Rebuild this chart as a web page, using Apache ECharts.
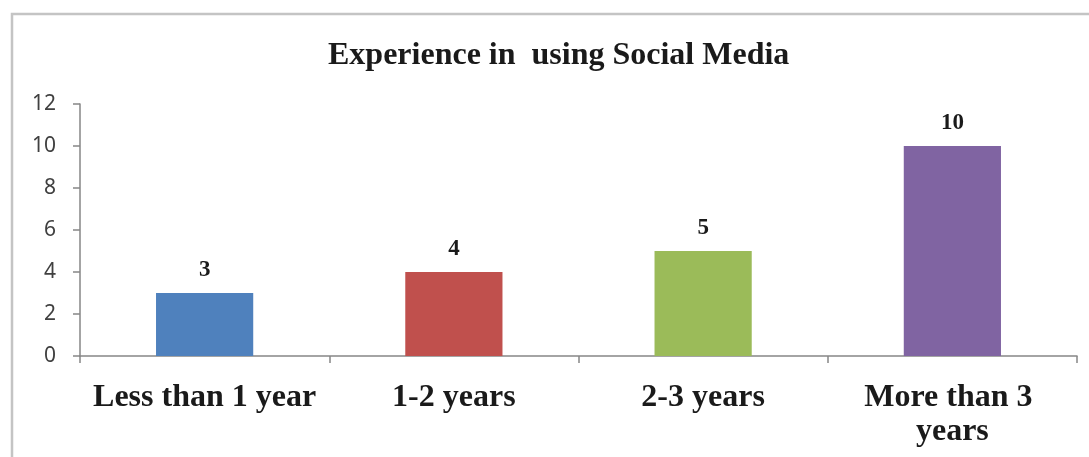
<!DOCTYPE html>
<html>
<head>
<meta charset="utf-8">
<script src="https://cdn.jsdelivr.net/npm/echarts@6/dist/echarts.min.js"></script>
<style>html,body{margin:0;padding:0;background:#fff;}#c{width:1089px;height:457px;}</style>
</head>
<body>
<div id="c"></div>
<script>
var titleText = 'Experience in  using Social Media';
var categories = ['Less than 1 year', '1-2 years', '2-3 years', 'More than 3 years'];
var values = [3, 4, 5, 10];
var barColors = ['#4F81BD', '#C0504D', '#9BBB59', '#8064A2'];
var yTicks = [0, 2, 4, 6, 8, 10, 12];

var chart = echarts.init(document.getElementById('c'));
var serif = '"Liberation Serif", "Times New Roman", serif';
chart.setOption({
  animation: false,
  backgroundColor: '#ffffff',
  title: {
    text: titleText,
    left: 328,
    top: 40,
    padding: 0,
    textStyle: { fontFamily: serif, fontWeight: 'bold', fontSize: 32, color: '#1a1a1a' }
  },
  graphic: [{
    type: 'rect',
    shape: { x: 12, y: 14, width: 1100, height: 470 },
    style: { fill: 'none', stroke: '#c4c4c4', lineWidth: 2.5 },
    silent: true
  }],
  grid: { left: 80, right: 12, top: 104, bottom: 101, containLabel: false },
  xAxis: {
    type: 'category',
    data: categories,
    axisLine: { lineStyle: { color: '#868686', width: 1.5 } },
    axisTick: { show: true, alignWithLabel: false, length: 7, lineStyle: { color: '#868686', width: 1.5 } },
    axisLabel: {
      interval: 0,
      margin: 25,
      width: 240,
      overflow: 'break',
      lineHeight: 34,
      fontFamily: serif, fontWeight: 'bold', fontSize: 32, color: '#1a1a1a'
    }
  },
  yAxis: {
    type: 'value',
    min: yTicks[0],
    max: yTicks[yTicks.length - 1],
    interval: yTicks[1] - yTicks[0],
    splitLine: { show: false },
    axisLine: { show: true, lineStyle: { color: '#868686', width: 1.5 } },
    axisTick: { show: true, length: 7, lineStyle: { color: '#868686', width: 1.5 } },
    axisLabel: { margin: 24, fontFamily: '"Noto Sans", sans-serif', fontSize: 21, color: '#404040' }
  },
  series: [{
    type: 'bar',
    barWidth: '39%',
    data: values.map(function (v, i) { return { value: v, itemStyle: { color: barColors[i] } }; }),
    label: {
      show: true,
      position: 'top',
      distance: 11,
      fontFamily: serif, fontWeight: 'bold', fontSize: 23, color: '#1a1a1a'
    }
  }]
});
</script>
</body>
</html>
